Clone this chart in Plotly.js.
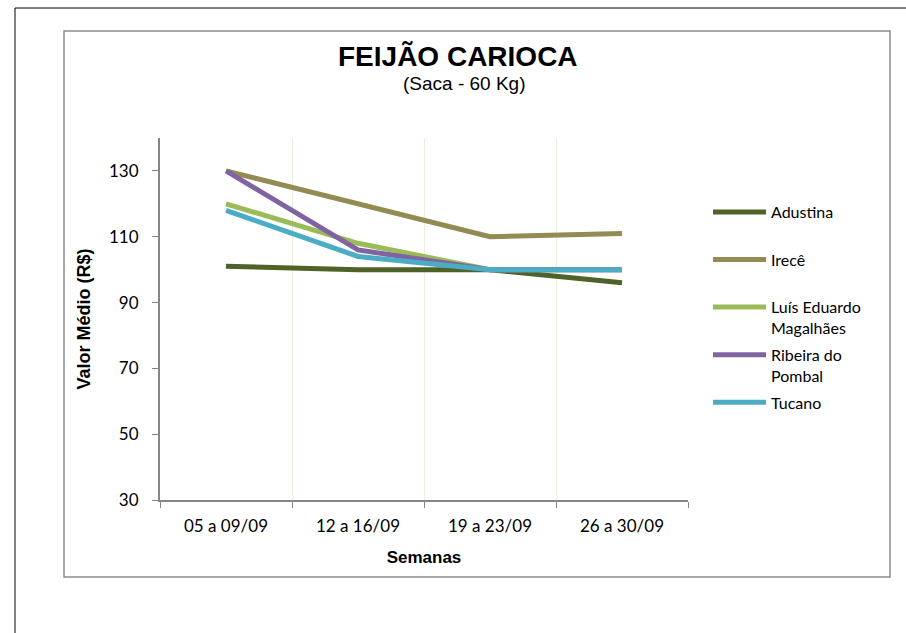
<!DOCTYPE html>
<html><head><meta charset="utf-8">
<script src="https://cdn.plot.ly/plotly-3.0.1.min.js"></script>
<style>html,body{margin:0;padding:0;background:#fff;}#chart{width:906px;height:633px;}</style>
</head><body><div id="chart"></div>
<script>
const semanas = ["05 a 09/09", "12 a 16/09", "19 a 23/09", "26 a 30/09"];
const adustina = [101, 100, 100, 96];
const irece = [130, 120, 110, 111];
const luisEduardo = [120, 108, 100, 100];
const ribeiraPombal = [130, 106, 100, 100];
const tucano = [118, 104, 100, 100];
const seriesNames = ["Adustina<br>&nbsp;", "Irecê<br>&nbsp;", "Luís Eduardo<br>Magalhães", "Ribeira do<br>Pombal", "Tucano<br>&nbsp;"];
const seriesColors = ["#4f6228", "#948a54", "#9bbb59", "#8064a2", "#4bacc6"];
const seriesValues = [adustina, irece, luisEduardo, ribeiraPombal, tucano];

const traces = seriesValues.map((vals, i) => ({
  type: "scatter", mode: "lines", x: semanas, y: vals, name: seriesNames[i],
  legendgroup: "g" + i,
  line: {color: seriesColors[i], width: 5}
}));

const L = 160, R = 688, T = 138, B = 500;
const px = v => (v - L) / (R - L);
const py = v => (B - v) / (B - T);

const layout = {
  width: 906, height: 633,
  margin: {l: L, r: 906 - R, t: T, b: 633 - B},
  paper_bgcolor: "#fff", plot_bgcolor: "#fff",
  font: {family: "Lato, sans-serif", color: "#000"},
  showlegend: true,
  legend: {x: px(708), y: py(195), xanchor: "left", yanchor: "top", valign: "top", itemwidth: 53,
    font: {size: 16, family: "Lato, sans-serif"}, tracegroupgap: 3, bgcolor: "rgba(0,0,0,0)"},
  xaxis: {type: "category", range: [-0.5, 3.5], tickson: "boundaries", showgrid: true, gridcolor: "#eeeedc", gridwidth: 1,
    showline: true, linecolor: "#868686", linewidth: 2, ticks: "outside", ticklen: 6, tickcolor: "#868686",
    ticklabelstandoff: 10,
    tickfont: {size: 17, family: "Lato, sans-serif"}, zeroline: false,
    title: {text: "Semanas", font: {size: 17, family: "Liberation Sans, Arial, sans-serif", weight: "bold"}, standoff: 16}},
  yaxis: {range: [30, 140], tickvals: [30, 50, 70, 90, 110, 130], showgrid: false, zeroline: false,
    showline: true, linecolor: "#868686", linewidth: 2, ticks: "outside", ticklen: 6, tickcolor: "#868686",
    ticklabelstandoff: 10,
    tickfont: {size: 17, family: "Lato, sans-serif"},
    title: {text: "Valor Médio (R$)", font: {size: 18, family: "Liberation Sans, Arial, sans-serif", weight: "bold"}, standoff: 14}},
  annotations: [
    {text: "<b>FEIJÃO CARIOCA</b>", xref: "paper", yref: "paper", x: px(458), y: py(56), xanchor: "center", yanchor: "middle", showarrow: false,
     font: {size: 28, family: "Liberation Sans, Arial, sans-serif", color: "#000"}},
    {text: "(Saca - 60 Kg)", xref: "paper", yref: "paper", x: px(464), y: py(83), xanchor: "center", yanchor: "middle", showarrow: false,
     font: {size: 19, family: "Liberation Sans, Arial, sans-serif", color: "#000"}}
  ],
  shapes: [
    {type: "rect", xref: "paper", yref: "paper", x0: px(64), x1: px(890), y0: py(31), y1: py(577), line: {color: "#8c8c8c", width: 1.5}, layer: "below"},
    {type: "line", xref: "paper", yref: "paper", x0: px(15), x1: px(906), y0: py(8), y1: py(8), line: {color: "#000", width: 1}},
    {type: "line", xref: "paper", yref: "paper", x0: px(15), x1: px(15), y0: py(8), y1: py(633), line: {color: "#000", width: 1}}
  ]
};
Plotly.newPlot("chart", traces, layout, {displayModeBar: false, staticPlot: true});
</script></body></html>
